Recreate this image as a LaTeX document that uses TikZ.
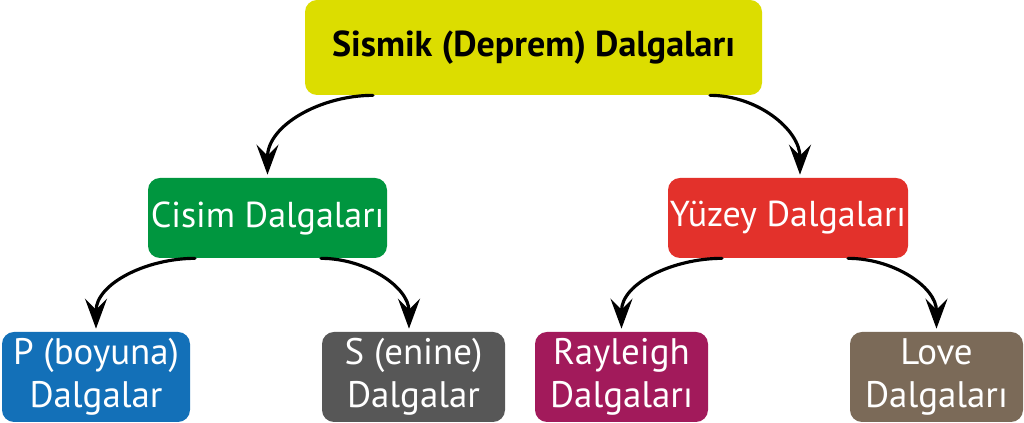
\documentclass[tikz,border=0pt]{standalone}
\usepackage{fontspec}
\setmainfont{PT Sans}
\usetikzlibrary{arrows.meta}
\definecolor{sismikrenk}{RGB}{220,221,0}
\definecolor{cisimrenk}{RGB}{0,150,63}
\definecolor{yuzeyrenk}{RGB}{227,49,43}
\definecolor{prenk}{RGB}{19,112,184}
\definecolor{srenk}{RGB}{87,87,87}
\definecolor{rayleighrenk}{RGB}{162,26,91}
\definecolor{loverenk}{RGB}{123,106,88}

\begin{document}
\begin{tikzpicture}[line cap=round,line join=round,
    >={Stealth[length=6mm,width=4.4mm,inset=2.2mm]},
    kutu/.style={rounded corners=0.24cm,text=white,align=center,inner sep=0pt},
    alt/.style={kutu,minimum height=1.8cm,font=\fontsize{21}{24.5}\selectfont},
    ok/.style={->,line width=1.8pt,shorten >=0.06cm}]
      \useasboundingbox (0,0) rectangle (20.48,8.46);

      % Boxes
      \node[kutu,fill=sismikrenk,text=black,minimum width=9.14cm,minimum height=1.9cm,
        font=\fontsize{20.5}{26}\selectfont\bfseries] (sismik) at (10.67,7.51) {Sismik (Deprem) Dalgaları};
      \node[kutu,fill=cisimrenk,minimum width=4.78cm,minimum height=1.6cm,
        font=\fontsize{20.5}{24}\selectfont] (cisim) at (5.35,4.10) {Cisim Dalgaları};
      \node[kutu,fill=yuzeyrenk,minimum width=4.8cm,minimum height=1.6cm,
        font=\fontsize{20.5}{24}\selectfont] (yuzey) at (15.76,4.10) {Yüzey Dalgaları};
      \node[alt,fill=prenk,minimum width=3.76cm] (p) at (1.92,0.92) {P (boyuna)\\Dalgalar};
      \node[alt,fill=srenk,minimum width=3.66cm] (s) at (8.27,0.92) {S (enine)\\Dalgalar};
      \node[alt,fill=rayleighrenk,minimum width=3.46cm] (rayleigh) at (12.43,0.92) {Rayleigh\\Dalgaları};
      \node[alt,fill=loverenk,minimum width=3.46cm] (love) at (18.73,0.92) {Love\\Dalgaları};

      % Arrows
      \draw[ok] ([xshift=-3.21cm]sismik.south) to[out=180,in=90] (cisim.north);
      \draw[ok] ([xshift=3.53cm]sismik.south) to[out=0,in=90] ([xshift=0.24cm]yuzey.north);
      \draw[ok] ([xshift=-1.45cm]cisim.south) to[out=180,in=90] (p.north);
      \draw[ok] ([xshift=1.07cm]cisim.south) to[out=0,in=90] ([xshift=-0.09cm]s.north);
      \draw[ok] ([xshift=-1.32cm]yuzey.south) to[out=180,in=90] (rayleigh.north);
      \draw[ok] ([xshift=1.2cm]yuzey.south) to[out=0,in=90] (love.north);
    \end{tikzpicture}
\end{document}
